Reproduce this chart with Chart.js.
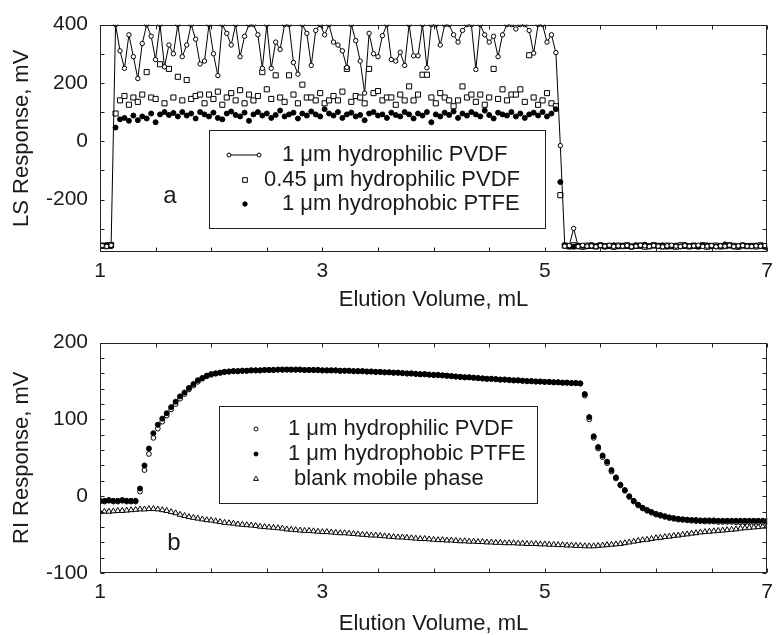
<!DOCTYPE html>
<html><head><meta charset="utf-8">
<script src="https://cdn.jsdelivr.net/npm/chart.js@4.4.0/dist/chart.umd.min.js"></script>
<style>
html,body{margin:0;padding:0;background:#fff;width:780px;height:635px;overflow:hidden}
canvas{position:absolute;left:0}
#c1{top:0}
#c2{top:318px}
</style></head><body>
<canvas id="c1" width="780" height="318"></canvas>
<canvas id="c2" width="780" height="317"></canvas>
<script>
// ---------- Panel a: LS response ----------
const lsX = [
1.02,1.06,1.10,1.14,1.18,1.22,1.26,1.30,1.34,1.38,
1.42,1.46,1.50,1.54,1.58,1.62,1.66,1.70,1.74,1.78,
1.82,1.86,1.90,1.94,1.98,2.02,2.06,2.10,2.14,2.18,
2.22,2.26,2.30,2.34,2.38,2.42,2.46,2.50,2.54,2.58,
2.62,2.66,2.70,2.74,2.78,2.82,2.86,2.90,2.94,2.98,
3.02,3.06,3.10,3.14,3.18,3.22,3.26,3.30,3.34,3.38,
3.42,3.46,3.50,3.54,3.58,3.62,3.66,3.70,3.74,3.78,
3.82,3.86,3.90,3.94,3.98,4.02,4.06,4.10,4.14,4.18,
4.22,4.26,4.30,4.34,4.38,4.42,4.46,4.50,4.54,4.58,
4.62,4.66,4.70,4.74,4.78,4.82,4.86,4.90,4.94,4.98,
5.02,5.06,5.10,5.14,5.18,5.22,5.26,5.30,5.34,5.38,
5.42,5.46,5.50,5.54,5.58,5.62,5.66,5.70,5.74,5.78,
5.82,5.86,5.90,5.94,5.98,6.02,6.06,6.10,6.14,6.18,
6.22,6.26,6.30,6.34,6.38,6.42,6.46,6.50,6.54,6.58,
6.62,6.66,6.70,6.74,6.78,6.82,6.86,6.90,6.94,6.98];
const lsPvdf1 = [
-358,-361,-357,400,310,250,365,290,215,335,
400,360,280,400,255,330,300,400,290,330,
400,350,265,275,400,300,225,400,370,330,
400,290,360,400,400,365,250,400,250,340,
315,400,400,270,230,400,370,260,380,400,
365,400,340,330,310,253,400,345,275,165,
370,300,290,362,400,280,275,305,260,400,
293,293,400,252,400,400,330,400,400,365,
340,380,400,400,246,400,365,340,360,290,
365,400,400,385,400,400,380,302,400,400,
340,365,304,-15,-360,-358,-299,-361,-357,-360,
-359,-362,-358,-360,-357,-361,-359,-360,-358,-362,
-360,-357,-359,-361,-358,-360,-362,-359,-357,-360,
-361,-358,-360,-359,-357,-361,-360,-358,-362,-359,
-360,-357,-361,-359,-358,-360,-361,-359,-360,-358];
const lsPvdf045 = [
-358,-360,-356,95,140,155,125,150,135,160,
237,150,145,264,130,248,150,221,140,210,
145,155,160,130,160,145,170,125,150,165,
140,175,130,160,140,155,237,178,145,226,
150,135,226,160,130,194,150,150,140,165,
130,140,155,140,170,248,135,155,150,130,
248,165,172,140,150,150,125,160,140,188,
140,160,228,228,150,130,165,150,140,120,
140,188,150,160,135,160,125,150,248,145,
178,140,160,160,178,135,295,150,125,140,
165,130,120,-185,-358,-361,-357,-360,-362,-358,
-359,-361,-357,-360,-359,-362,-358,-360,-357,-361,
-359,-358,-362,-360,-357,-359,-361,-358,-360,-362,
-357,-359,-361,-358,-360,-357,-362,-359,-358,-361,
-360,-357,-359,-362,-358,-360,-359,-361,-357,-360];
const lsPtfe = [
-359,-356,-360,47,75,80,70,88,72,85,
78,95,65,92,100,90,97,85,100,88,
95,78,100,92,85,98,80,75,95,102,
90,85,98,70,92,100,88,95,80,90,
105,85,92,98,78,95,88,102,92,85,
110,95,88,100,80,92,98,85,90,72,
95,100,88,92,80,98,90,85,100,92,
78,95,88,100,65,92,85,98,90,102,
80,95,88,100,92,85,105,90,78,98,
92,88,100,85,95,80,92,98,88,100,
85,95,110,-140,-357,-360,-362,-358,-359,-361,
-356,-360,-358,-362,-359,-357,-361,-358,-360,-362,
-357,-359,-355,-361,-358,-360,-357,-362,-359,-358,
-361,-356,-360,-359,-362,-358,-357,-360,-361,-359,
-354,-358,-362,-360,-357,-359,-361,-358,-360,-362];

// ---------- Panel b: RI response ----------
const riX = [
1.00,1.04,1.08,1.12,1.16,1.20,1.24,1.28,1.32,1.36,
1.40,1.44,1.48,1.52,1.56,1.60,1.64,1.68,1.72,1.76,
1.80,1.84,1.88,1.92,1.96,2.00,2.04,2.08,2.12,2.16,
2.20,2.24,2.28,2.32,2.36,2.40,2.44,2.48,2.52,2.56,
2.60,2.64,2.68,2.72,2.76,2.80,2.84,2.88,2.92,2.96,
3.00,3.04,3.08,3.12,3.16,3.20,3.24,3.28,3.32,3.36,
3.40,3.44,3.48,3.52,3.56,3.60,3.64,3.68,3.72,3.76,
3.80,3.84,3.88,3.92,3.96,4.00,4.04,4.08,4.12,4.16,
4.20,4.24,4.28,4.32,4.36,4.40,4.44,4.48,4.52,4.56,
4.60,4.64,4.68,4.72,4.76,4.80,4.84,4.88,4.92,4.96,
5.00,5.04,5.08,5.12,5.16,5.20,5.24,5.28,5.32,5.36,
5.40,5.44,5.48,5.52,5.56,5.60,5.64,5.68,5.72,5.76,
5.80,5.84,5.88,5.92,5.96,6.00,6.04,6.08,6.12,6.16,
6.20,6.24,6.28,6.32,6.36,6.40,6.44,6.48,6.52,6.56,
6.60,6.64,6.68,6.72,6.76,6.80,6.84,6.88,6.92,6.96,
7.00];
const riPvdf = [
-7,-7,-6,-7,-7,-6,-7,-7,-7,6,
34,55,76,88,97,105,113,120,127,133,
139,144,149,153,156,158,159.5,160.5,161.5,162,
162.5,162.5,163,163,163.5,163.5,163.5,164,164,164,
164.5,164.5,164.5,164.5,164.5,164.5,164,164,164,164,
163.5,163.5,163.5,163.5,163,163,163,162.5,162.5,162.5,
162,162,161.5,161.5,161,161,160.5,160.5,160,159.5,
159.5,159,158.5,158.5,158,157.5,157.5,157,156.5,156,
155.5,155,154.5,154.5,154,153.5,153,152.5,152.5,152,
151.5,151.5,151,150.5,150.5,150,149.5,149.5,149,149,
148.5,148.5,148,148,147.5,147.5,147,147,146.5,131,
100,76,62,51,43,32,23,14,7,-1,
-7,-12,-16,-19,-21.5,-24,-25.5,-27,-28.5,-29.5,
-30.5,-31,-31.5,-32,-32.5,-32.5,-33,-33,-33,-33.5,
-33.5,-33.5,-33.5,-34,-34,-34,-34,-34,-34,-34,
-34];
const riPtfe = [
-6,-6,-5,-6,-6,-5,-6,-6,-6,10,
40,62,82,93,101,108,116,123,130,135,
141,146,151,154,157,159,160,161,162,162.5,
163,163,163.5,163.5,164,164,164,164.5,164.5,164.5,
165,165,165,165,165,165,164.5,164.5,164.5,164.5,
164,164,164,164,163.5,163.5,163.5,163,163,163,
162.5,162.5,162,162,161.5,161.5,161,161,160.5,160,
160,159.5,159,159,158.5,158,158,157.5,157,156.5,
156,155.5,155,155,154.5,154,153.5,153,153,152.5,
152,152,151.5,151,151,150.5,150,150,149.5,149.5,
149,149,148.5,148.5,148,148,147.5,147.5,147,133,
103,78,64,53,45,34,24.5,15,8,0,
-6,-11,-15,-18,-20.5,-23,-24.5,-26,-27.5,-28.5,
-29.5,-30,-30.5,-31,-31,-31.5,-31.5,-31.5,-31.5,-32,
-32,-32,-32,-32,-32,-32,-32,-32,-32,-32,
-32];
const riBlank = [
-20.5,-20,-20,-19.5,-19,-19,-18.5,-18,-17.5,-17,
-17,-16.5,-16.5,-17,-18,-19,-20.5,-22,-24,-25.5,
-27,-28,-29,-30,-31,-31.5,-32.5,-33.5,-34.5,-35,
-35.5,-36.5,-37,-37.5,-38,-38.5,-39.5,-40,-40.5,-41,
-41.5,-42,-43,-43.5,-44,-44.5,-45,-45,-45.5,-46,
-46.5,-46.5,-47,-47.5,-48,-48,-48.5,-49,-49.5,-50,
-50.5,-51,-51,-51.5,-52,-52.5,-53,-53.5,-53.5,-54,
-54.5,-55,-55.5,-55.5,-56,-56.5,-57,-57,-57.5,-57.5,
-58,-58.5,-58.5,-59,-59,-59.5,-59.5,-60,-60,-60.5,
-60.5,-61,-61,-61,-61.5,-61.5,-62,-62,-62,-62.5,
-62.5,-63,-63,-63.5,-63.5,-64,-64,-64.5,-64.5,-65,
-65,-65,-64.5,-64,-63.5,-63,-62.5,-62,-61,-60,
-59,-58,-57,-56.5,-55.5,-54.5,-54,-53,-52.5,-51.5,
-51,-50,-49.5,-48.5,-48,-47,-46.5,-46,-45.5,-45,
-44.5,-44,-43.5,-43,-42,-41.5,-41,-40.5,-40,-39.5,
-39];

// ---------- tick labels and texts ----------
const xTickLabels = [1, 3, 5, 7];
const lsTickLabels = [-200, 0, 200, 400];
const riTickLabels = [-100, 0, 100, 200];
const lsLegend = ['1 \u03bcm hydrophilic PVDF', '0.45 \u03bcm hydrophilic PVDF', '1 \u03bcm hydrophobic PTFE'];
const riLegend = ['1 \u03bcm hydrophilic PVDF', '1 \u03bcm hydrophobic PTFE', ' blank mobile phase'];
const xTitle = 'Elution Volume, mL';
const lsTitle = 'LS Response, mV';
const riTitle = 'RI Response, mV';

// ---------- styling / helpers ----------
const FONT = "'Liberation Sans', Arial, sans-serif";
const INK = '#1a1a1a';
const pts = (xs, ys) => xs.map((x, i) => ({x: x, y: ys[i]}));

function drawMarker(ctx, style, r, x, y, fill, stroke, bw) {
  ctx.beginPath();
  if (style === 'rect') {
    const s = Math.SQRT1_2 * r;
    ctx.rect(x - s, y - s, 2 * s, 2 * s);
  } else if (style === 'triangle') {
    let a = 0;
    ctx.moveTo(x + Math.sin(a) * r, y - Math.cos(a) * r);
    a += 2 * Math.PI / 3;
    ctx.lineTo(x + Math.sin(a) * r, y - Math.cos(a) * r);
    a += 2 * Math.PI / 3;
    ctx.lineTo(x + Math.sin(a) * r, y - Math.cos(a) * r);
    ctx.closePath();
  } else {
    ctx.arc(x, y, r, 0, Math.PI * 2);
  }
  ctx.fillStyle = fill; ctx.fill();
  if (bw > 0) { ctx.lineWidth = bw; ctx.strokeStyle = stroke; ctx.stroke(); }
}

const framePlugin = {
  id: 'frame',
  afterDatasetsDraw(chart) {
    const ctx = chart.ctx, a = chart.chartArea, x = chart.scales.x, y = chart.scales.y;
    const L = Math.round(a.left) + 0.5, R = Math.round(a.right) - 0.5;
    const T = Math.round(a.top) + 0.5, B = Math.round(a.bottom) - 0.5;
    ctx.save();
    ctx.strokeStyle = '#222';
    ctx.lineWidth = 1;
    ctx.strokeRect(L, T, R - L, B - T);
    ctx.beginPath();
    x.ticks.forEach(t => {
      const p = Math.round(x.getPixelForValue(t.value)) + 0.5;
      ctx.moveTo(p, B); ctx.lineTo(p, B - 4);
      ctx.moveTo(p, T); ctx.lineTo(p, T + 4);
    });
    y.ticks.forEach(t => {
      const p = Math.round(y.getPixelForValue(t.value)) + 0.5;
      ctx.moveTo(L, p); ctx.lineTo(L + 4, p);
      ctx.moveTo(R, p); ctx.lineTo(R - 4, p);
    });
    ctx.stroke();
    ctx.restore();
  }
};

const boxLegendPlugin = {
  id: 'boxLegend',
  afterDraw(chart, args, o) {
    if (!o || !o.rows) return;
    const ctx = chart.ctx;
    ctx.save();
    ctx.fillStyle = '#fff';
    ctx.fillRect(o.x, o.y, o.w, o.h);
    ctx.strokeStyle = '#222';
    ctx.lineWidth = 1;
    ctx.strokeRect(o.x + 0.5, o.y + 0.5, o.w, o.h);
    ctx.font = o.fontSize + 'px ' + FONT;
    ctx.textBaseline = 'middle';
    ctx.textAlign = 'left';
    o.rows.forEach(r => {
      const ds = chart.data.datasets[r.ds];
      const rad = r.r || ds.pointRadius;
      if (r.line) {
        ctx.beginPath();
        ctx.moveTo(r.mx - r.half, r.y); ctx.lineTo(r.mx + r.half, r.y);
        ctx.strokeStyle = ds.borderColor; ctx.lineWidth = ds.borderWidth; ctx.stroke();
        drawMarker(ctx, ds.pointStyle, rad, r.mx - r.half, r.y, ds.pointBackgroundColor, ds.pointBorderColor, ds.pointBorderWidth);
        drawMarker(ctx, ds.pointStyle, rad, r.mx + r.half, r.y, ds.pointBackgroundColor, ds.pointBorderColor, ds.pointBorderWidth);
      } else {
        drawMarker(ctx, ds.pointStyle, rad, r.mx, r.y, ds.pointBackgroundColor, ds.pointBorderColor, ds.pointBorderWidth);
      }
      ctx.fillStyle = INK;
      ctx.fillText(ds.label, r.tx, r.y);
    });
    if (o.tag) {
      ctx.fillStyle = INK;
      ctx.textAlign = 'center';
      ctx.font = o.tag.size + 'px ' + FONT;
      ctx.fillText(o.tag.text, o.tag.x, o.tag.y);
    }
    ctx.restore();
  }
};

function scalesFor(ymin, ymax, ystep, ylabels, ytitle, xAxisH, xTickPad, xTitlePad) {
  return {
    x: {
      type: 'linear', min: 1, max: 7,
      afterFit: s => { s.height = xAxisH; },
      grid: {display: false, drawTicks: false},
      border: {display: false},
      ticks: {stepSize: 0.5, autoSkip: false, maxRotation: 0, minRotation: 0, padding: xTickPad, color: INK,
        font: {family: FONT, size: 21},
        callback: v => xTickLabels.includes(v) ? String(v) : ''},
      title: {display: true, text: xTitle, color: INK, font: {family: FONT, size: 22, lineHeight: 1},
        padding: {top: 0, bottom: xTitlePad}}
    },
    y: {
      type: 'linear', min: ymin, max: ymax,
      afterFit: s => { s.width = 100; },
      grid: {display: false, drawTicks: false},
      border: {display: false},
      ticks: {stepSize: ystep, includeBounds: false, autoSkip: false, padding: 12, color: INK,
        font: {family: FONT, size: 21},
        callback: v => ylabels.includes(v) ? String(v) : ''},
      title: {display: true, text: ytitle, color: INK, font: {family: FONT, size: 22, lineHeight: 1},
        padding: {top: 11, bottom: 0}}
    }
  };
}

// ---------- Chart a ----------
new Chart(document.getElementById('c1'), {
  type: 'line',
  data: {
    datasets: [
      {label: lsLegend[0], data: pts(lsX, lsPvdf1), showLine: true, borderColor: '#000', borderWidth: 1,
       pointStyle: 'circle', pointRadius: 2.2, pointBorderWidth: 1, pointBackgroundColor: '#fff', pointBorderColor: '#000', tension: 0},
      {label: lsLegend[2], data: pts(lsX, lsPtfe), showLine: false, borderColor: '#000',
       pointStyle: 'circle', pointRadius: 2.5, pointBorderWidth: 1, pointBackgroundColor: '#000', pointBorderColor: '#000'},
      {label: lsLegend[1], data: pts(lsX, lsPvdf045), showLine: false, borderColor: '#000',
       pointStyle: 'rect', pointRadius: 3.6, pointBorderWidth: 1, pointBackgroundColor: '#fff', pointBorderColor: '#000'}
    ]
  },
  options: {
    responsive: false, animation: false, devicePixelRatio: 1,
    layout: {padding: {top: 13, right: 4, left: 0, bottom: 0}},
    plugins: {
      legend: {display: false}, tooltip: {enabled: false},
      boxLegend: {
        x: 209, y: 130, w: 336, h: 98, fontSize: 22,
        rows: [
          {ds: 0, line: true, mx: 244, half: 15, y: 155, tx: 282, r: 2},
          {ds: 2, mx: 245, y: 180, tx: 264, r: 3.3},
          {ds: 1, mx: 245, y: 204, tx: 282, r: 2.2}
        ],
        tag: {text: 'a', x: 170, y: 196, size: 24}
      }
    },
    scales: scalesFor(-380, 400, 100, lsTickLabels, lsTitle, 66, 7, 7)
  },
  plugins: [framePlugin, boxLegendPlugin]
});

// ---------- Chart b ----------
new Chart(document.getElementById('c2'), {
  type: 'line',
  data: {
    datasets: [
      {label: riLegend[1], data: pts(riX, riPtfe), showLine: false, borderColor: '#000',
       pointStyle: 'circle', pointRadius: 2.5, pointBorderWidth: 1, pointBackgroundColor: '#000', pointBorderColor: '#000'},
      {label: riLegend[0], data: pts(riX, riPvdf), showLine: false, borderColor: '#000',
       pointStyle: 'circle', pointRadius: 2.4, pointBorderWidth: 1, pointBackgroundColor: '#fff', pointBorderColor: '#000'},
      {label: riLegend[2], data: pts(riX, riBlank), showLine: false, borderColor: '#000',
       pointStyle: 'triangle', pointRadius: 3.3, pointBorderWidth: 1, pointBackgroundColor: '#fff', pointBorderColor: '#000'}
    ]
  },
  options: {
    responsive: false, animation: false, devicePixelRatio: 1,
    layout: {padding: {top: 15, right: 4, left: 0, bottom: 0}},
    plugins: {
      legend: {display: false}, tooltip: {enabled: false},
      boxLegend: {
        x: 219, y: 88, w: 318, h: 97, fontSize: 22,
        rows: [
          {ds: 1, mx: 256, y: 111, tx: 288, r: 2},
          {ds: 0, mx: 256, y: 136, tx: 288, r: 2},
          {ds: 2, mx: 256, y: 161, tx: 288, r: 2.8}
        ],
        tag: {text: 'b', x: 174, y: 225, size: 24}
      }
    },
    scales: scalesFor(-100, 200, 20, riTickLabels, riTitle, 62, 7, 0)
  },
  plugins: [framePlugin, boxLegendPlugin]
});
</script>
</body></html>
